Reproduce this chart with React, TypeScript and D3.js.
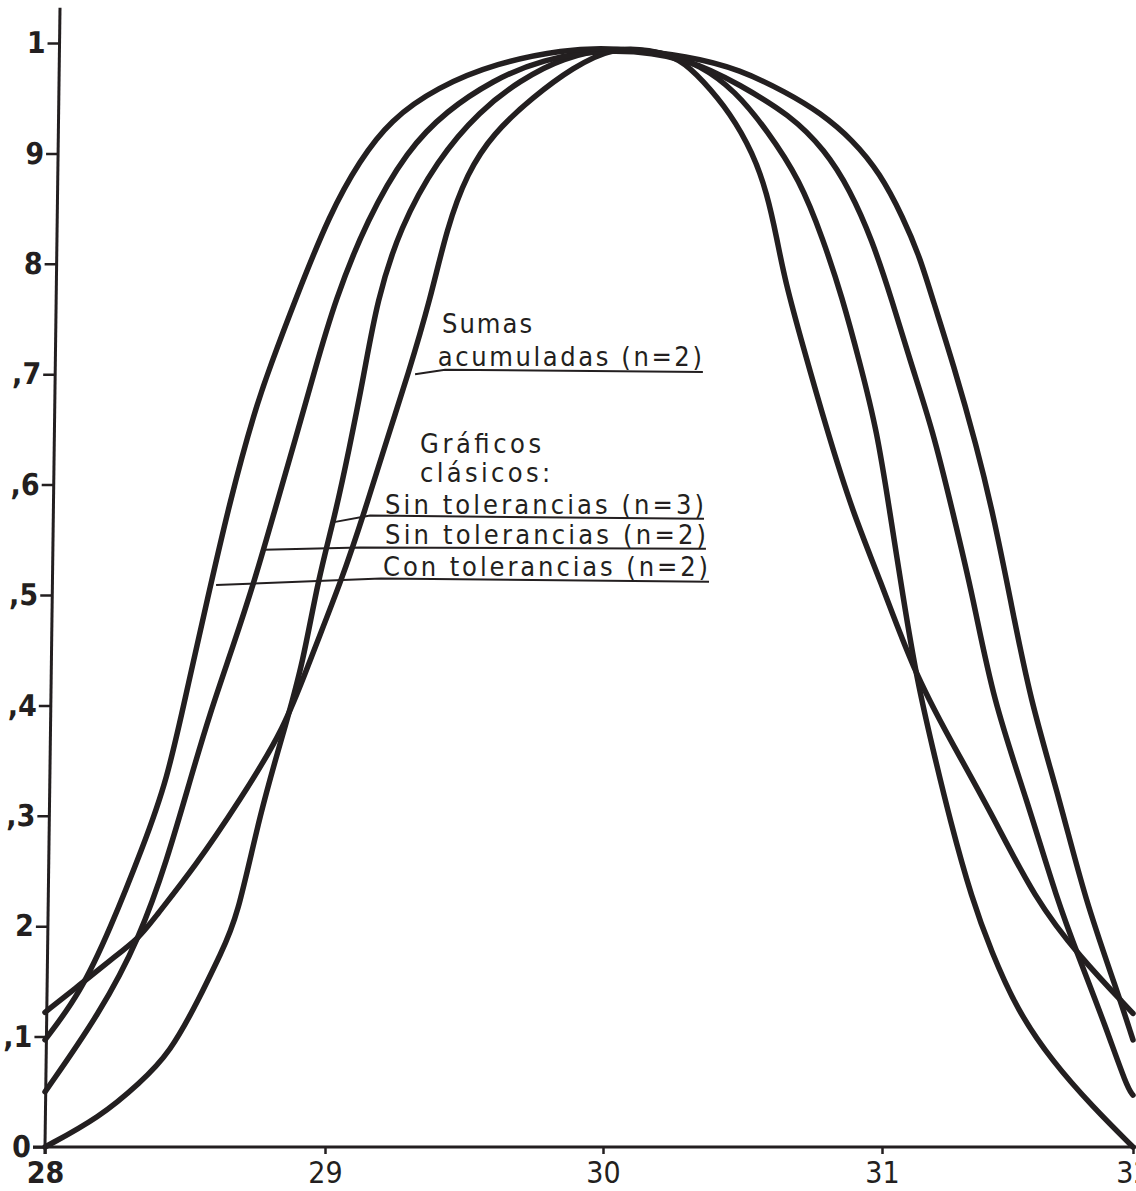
import React, { useEffect, useRef } from "react";
import * as d3 from "d3";

// axis ticks
const xTicks = [28, 29, 30, 31, 32];
const xTickLabels = ["28", "29", "30", "31", "32"];
const yTicks = [0, 0.1, 0.2, 0.3, 0.4, 0.5, 0.6, 0.7, 0.8, 0.9, 1];
const yTickLabels = ["0", ",1", "2", ",3", ",4", ",5", ",6", ",7", "8", "9", "1"];

// curves: [mean, probability]
const sumasAcumuladasN2: [number, number][] = [
  [28.0, 0.122], [28.125, 0.147], [28.232, 0.169], [28.339, 0.19], [28.386, 0.206],
  [28.536, 0.254], [28.696, 0.314], [28.857, 0.38], [28.946, 0.441], [29.061, 0.514],
  [29.144, 0.577], [29.223, 0.641], [29.299, 0.7], [29.378, 0.767], [29.439, 0.833],
  [29.511, 0.882], [29.604, 0.918], [29.748, 0.951], [29.892, 0.978], [30.036, 0.996],
  [30.168, 0.994], [30.276, 0.986], [30.358, 0.966], [30.455, 0.937], [30.538, 0.9],
  [30.588, 0.864], [30.624, 0.822], [30.652, 0.785], [30.717, 0.725], [30.803, 0.649],
  [30.896, 0.574], [30.993, 0.514], [31.124, 0.432], [31.271, 0.369], [31.43, 0.305],
  [31.61, 0.224], [31.789, 0.172], [31.988, 0.124], [32.0, 0.121],
];

const sinTolerancias3: [number, number][] = [
  [28.0, 0.0], [28.196, 0.027], [28.339, 0.058], [28.446, 0.085], [28.554, 0.136],
  [28.625, 0.174], [28.686, 0.206], [28.768, 0.303], [28.857, 0.38], [28.921, 0.438],
  [28.975, 0.514], [29.036, 0.572], [29.086, 0.631], [29.14, 0.699], [29.187, 0.767],
  [29.27, 0.833], [29.403, 0.894], [29.558, 0.939], [29.701, 0.966], [29.856, 0.987],
  [30.036, 0.996], [30.215, 0.992], [30.348, 0.98], [30.473, 0.957], [30.588, 0.921],
  [30.706, 0.876], [30.789, 0.822], [30.857, 0.77], [30.921, 0.71], [30.982, 0.649],
  [31.032, 0.574], [31.084, 0.498], [31.139, 0.423], [31.203, 0.36], [31.271, 0.296],
  [31.359, 0.224], [31.434, 0.178], [31.538, 0.124], [31.677, 0.078], [31.841, 0.036],
  [32.0, 0.0],
];

const sinTolerancias2: [number, number][] = [
  [28.0, 0.05], [28.196, 0.121], [28.339, 0.19], [28.436, 0.26], [28.518, 0.332],
  [28.589, 0.393], [28.671, 0.453], [28.75, 0.514], [28.821, 0.577], [28.893, 0.64],
  [28.964, 0.704], [29.036, 0.767], [29.151, 0.84], [29.295, 0.903], [29.439, 0.939],
  [29.604, 0.966], [29.773, 0.985], [30.036, 0.996], [30.312, 0.986], [30.491, 0.962],
  [30.67, 0.935], [30.796, 0.903], [30.885, 0.867], [30.964, 0.822], [31.04, 0.767],
  [31.112, 0.712], [31.203, 0.649], [31.283, 0.574], [31.363, 0.498], [31.442, 0.405],
  [31.578, 0.314], [31.697, 0.224], [31.789, 0.169], [31.888, 0.111], [31.976, 0.054],
  [32.0, 0.047],
];

const conTolerancias2: [number, number][] = [
  [28.0, 0.097], [28.125, 0.139], [28.232, 0.197], [28.35, 0.272], [28.436, 0.332],
  [28.507, 0.414], [28.579, 0.495], [28.661, 0.586], [28.75, 0.668], [28.804, 0.707],
  [28.893, 0.767], [29.018, 0.846], [29.126, 0.894], [29.234, 0.93], [29.403, 0.96],
  [29.619, 0.982], [29.856, 0.994], [30.036, 0.996], [30.312, 0.988], [30.491, 0.976],
  [30.659, 0.955], [30.778, 0.937], [30.896, 0.912], [30.993, 0.882], [31.084, 0.842],
  [31.151, 0.806], [31.203, 0.767], [31.283, 0.71], [31.378, 0.634], [31.442, 0.574],
  [31.51, 0.498], [31.59, 0.405], [31.709, 0.314], [31.809, 0.224], [31.936, 0.142],
  [32.0, 0.097],
];

const curves = [sumasAcumuladasN2, sinTolerancias3, sinTolerancias2, conTolerancias2];

// label texts and where they sit (in chart units)
const labelTexts = [
  { text: "Sumas", x: 29.421, v: 0.737, w: 90 },
  { text: "acumuladas (n=2)", x: 29.406, v: 0.707, w: 264 },
  { text: "Gráficos", x: 29.342, v: 0.629, w: 121 },
  { text: "clásicos:", x: 29.342, v: 0.602, w: 130 },
  { text: "Sin tolerancias (n=3)", x: 29.216, v: 0.573, w: 319 },
  { text: "Sin tolerancias (n=2)", x: 29.216, v: 0.546, w: 321 },
  { text: "Con tolerancias (n=2)", x: 29.209, v: 0.517, w: 325 },
];

const leaders: [number, number][][] = [
  [[29.324, 0.7], [29.432, 0.704], [30.358, 0.702]],
  [[29.032, 0.566], [29.162, 0.572], [30.362, 0.569]],
  [[28.782, 0.541], [29.126, 0.543], [30.369, 0.542]],
  [[28.611, 0.509], [29.201, 0.515], [30.38, 0.512]],
];

const INK = "#231f20";
const FONT = "'DejaVu Sans Condensed', 'DejaVu Sans', sans-serif";

export default function App() {
  const ref = useRef<SVGSVGElement>(null);

  useEffect(() => {
    const svg = d3.select(ref.current);
    svg.selectAll("*").remove();

    // scan is a little stretched on the right, so the x scale is piecewise
    const x = d3.scaleLinear().domain(xTicks).range([45, 325, 603, 882, 1133]);
    const y = d3.scaleLinear().domain([0, 1]).range([1147, 43]);

    svg.append("rect").attr("width", 1136).attr("height", 1191).attr("fill", "#fff");

    // curves (basis smooths out reading noise)
    const line = d3
      .line<[number, number]>()
      .x((d) => x(d[0]))
      .y((d) => y(d[1]))
      .curve(d3.curveBasis);

    svg
      .append("g")
      .selectAll("path")
      .data(curves)
      .join("path")
      .attr("d", (d) => line(d))
      .attr("fill", "none")
      .attr("stroke", INK)
      .attr("stroke-width", 5.5)
      .attr("stroke-linecap", "round")
      .attr("stroke-linejoin", "round");

    // x axis
    const xAxis = svg
      .append("g")
      .attr("transform", `translate(0, ${y(0)})`)
      .call(
        d3
          .axisBottom(x)
          .tickValues(xTicks)
          .tickFormat((d, i) => xTickLabels[i])
          .tickSize(7)
          .tickPadding(8)
          .tickSizeOuter(0)
      );
    xAxis.select(".domain").remove();
    xAxis.selectAll(".tick line").attr("stroke", INK).attr("stroke-width", 2.5);
    xAxis
      .selectAll(".tick text")
      .attr("fill", INK)
      .style("font-family", FONT)
      .style("font-size", "30px")
      .style("font-weight", (d, i) => (i === 0 ? "bold" : "normal"));
    xAxis
      .append("line")
      .attr("x1", 33)
      .attr("x2", 1136)
      .attr("stroke", INK)
      .attr("stroke-width", 3);

    // y axis, leaning slightly like the scanned original
    const lean = (Math.atan(-15 / 1139) * 180) / Math.PI;
    const yAxis = svg
      .append("g")
      .attr("transform", `translate(0, ${y(0)}) skewX(${lean}) translate(${x(28)}, ${-y(0)})`)
      .call(
        d3
          .axisLeft(y)
          .tickValues(yTicks)
          .tickFormat((d, i) => yTickLabels[i])
          .tickSize(12)
          .tickPadding(2)
          .tickSizeOuter(0)
      );
    yAxis.select(".domain").remove();
    yAxis.selectAll(".tick line").attr("stroke", INK).attr("stroke-width", 2.5);
    yAxis
      .selectAll(".tick text")
      .attr("fill", INK)
      .style("font-family", FONT)
      .style("font-size", "30px")
      .style("font-weight", "bold");
    yAxis
      .append("line")
      .attr("y1", y(0) + 7)
      .attr("y2", y(1.032))
      .attr("stroke", INK)
      .attr("stroke-width", 3);

    // leader lines
    const straight = d3
      .line<[number, number]>()
      .x((d) => x(d[0]))
      .y((d) => y(d[1]));
    svg
      .append("g")
      .selectAll("path")
      .data(leaders)
      .join("path")
      .attr("d", (d) => straight(d))
      .attr("fill", "none")
      .attr("stroke", INK)
      .attr("stroke-width", 2);

    // label texts
    svg
      .append("g")
      .selectAll("text")
      .data(labelTexts)
      .join("text")
      .attr("x", (d) => x(d.x))
      .attr("y", (d) => y(d.v))
      .attr("textLength", (d) => d.w)
      .attr("lengthAdjust", "spacing")
      .attr("fill", INK)
      .style("font-family", FONT)
      .style("font-size", "27px")
      .text((d) => d.text);
  }, []);

  return (
    <>
      <style>{"body{margin:0;background:#fff}"}</style>
      <svg ref={ref} width={1136} height={1191} style={{ display: "block" }} />
    </>
  );
}
